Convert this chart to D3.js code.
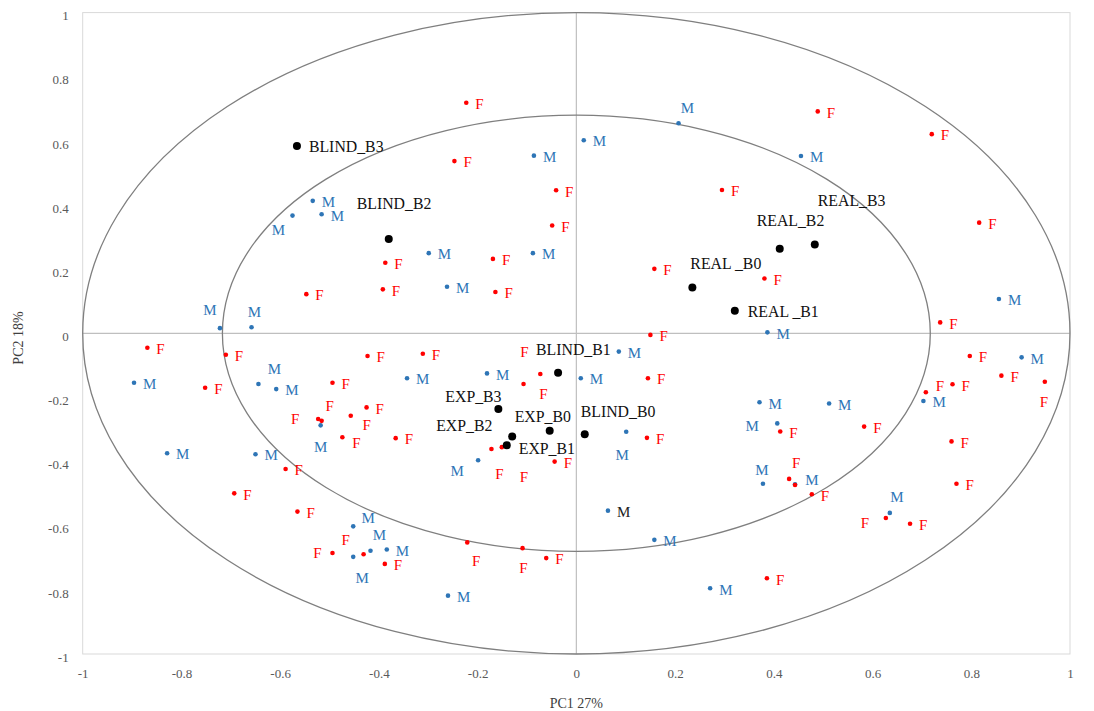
<!DOCTYPE html>
<html>
<head>
<meta charset="utf-8">
<script src="https://cdn.jsdelivr.net/npm/d3@7"></script>
<style>
  body { margin: 0; background: #fff; }
  text { font-family: "Liberation Serif", "Times New Roman", serif; }
</style>
</head>
<body>
<script>
// PCA scores, PC1 vs PC2
var femalePoints = [
  [-0.223, 0.719], [-0.247, 0.537], [-0.041, 0.446], [-0.049, 0.336], [-0.387, 0.22],
  [-0.392, 0.137], [-0.547, 0.122], [-0.169, 0.232], [-0.164, 0.129], [0.295, 0.447],
  [0.158, 0.201], [0.381, 0.171], [0.489, 0.692], [0.720, 0.621], [0.816, 0.345],
  [0.737, 0.034], [0.150, -0.005], [-0.869, -0.045], [-0.71, -0.067], [-0.752, -0.17],
  [-0.423, -0.071], [-0.494, -0.154], [-0.425, -0.231], [-0.523, -0.267], [-0.516, -0.273],
  [-0.457, -0.257], [-0.474, -0.324], [-0.366, -0.327], [-0.589, -0.423], [-0.693, -0.499],
  [-0.565, -0.556], [-0.494, -0.685], [-0.431, -0.689], [-0.388, -0.719], [-0.311, -0.064],
  [-0.073, -0.127], [-0.107, -0.158], [-0.172, -0.361], [-0.151, -0.355], [-0.044, -0.4],
  [-0.221, -0.652], [-0.109, -0.670], [-0.061, -0.701], [0.145, -0.14], [0.143, -0.326],
  [0.386, -0.764], [0.797, -0.071], [0.861, -0.132], [0.949, -0.151], [0.762, -0.159],
  [0.708, -0.184], [0.413, -0.306], [0.583, -0.291], [0.760, -0.337], [0.431, -0.454],
  [0.443, -0.473], [0.477, -0.502], [0.770, -0.469], [0.627, -0.576], [0.676, -0.594]
];
var malePoints = [
  [-0.086, 0.554], [-0.534, 0.413], [-0.575, 0.367], [-0.516, 0.371], [-0.299, 0.25],
  [-0.088, 0.25], [-0.262, 0.145], [-0.722, 0.016], [-0.658, 0.019], [0.015, 0.602],
  [0.207, 0.655], [0.455, 0.553], [0.856, 0.107], [0.387, 0.003], [-0.896, -0.154],
  [-0.644, -0.158], [-0.608, -0.174], [-0.518, -0.287], [-0.829, -0.374], [-0.65, -0.377],
  [-0.452, -0.602], [-0.452, -0.697], [-0.417, -0.678], [-0.384, -0.674], [-0.343, -0.14],
  [-0.181, -0.125], [-0.199, -0.396], [-0.26, -0.818], [0.009, -0.14], [0.086, -0.057],
  [0.101, -0.307], [0.064, -0.553], [0.158, -0.644], [0.271, -0.795], [0.371, -0.215],
  [0.407, -0.281], [0.378, -0.469], [0.902, -0.075], [0.703, -0.211], [0.512, -0.219],
  [0.443, -0.471], [0.635, -0.560]
];
var groupNames = ["BLIND_B3", "BLIND_B2", "REAL_B3", "REAL_B2", "REAL _B0", "REAL _B1",
  "BLIND_B1", "BLIND_B0", "EXP_B3", "EXP_B0", "EXP_B2", "EXP_B1"];
var groupX = [-0.566, -0.38, 0.483, 0.412, 0.235, 0.321, -0.037, 0.017, -0.158, -0.054, -0.13, -0.141];
var groupY = [0.584, 0.294, 0.277, 0.264, 0.143, 0.07, -0.123, -0.315, -0.236, -0.304, -0.322, -0.349];
var tickValues = [-1, -0.8, -0.6, -0.4, -0.2, 0, 0.2, 0.4, 0.6, 0.8, 1];

// label placement (pixels): null = to the right of the dot, [dx,dy] = centre offset, "none" = no label
var femaleLabelPos = [];
femalePoints.forEach(function() { femaleLabelPos.push(null); });
femaleLabelPos[23] = [-23, 0]; femaleLabelPos[24] = [8, -15]; femaleLabelPos[25] = [16, 9];
femaleLabelPos[26] = [14, 6]; femaleLabelPos[31] = [-15, 0]; femaleLabelPos[32] = [-18, -15];
femaleLabelPos[35] = [-16, -22]; femaleLabelPos[36] = [20, 10]; femaleLabelPos[37] = [8, 25];
femaleLabelPos[38] = [22, 30]; femaleLabelPos[40] = [9, 18]; femaleLabelPos[41] = [1, 20];
femaleLabelPos[48] = [-1, 20]; femaleLabelPos[50] = [14, -7]; femaleLabelPos[54] = [7, -16];
femaleLabelPos[55] = "none"; femaleLabelPos[58] = [-21, 5];
var maleLabelPos = [];
malePoints.forEach(function() { maleLabelPos.push(null); });
maleLabelPos[2] = [-14, 14]; maleLabelPos[7] = [-10, -18]; maleLabelPos[8] = [3, -15];
maleLabelPos[10] = [9, -15]; maleLabelPos[15] = [16, -15]; maleLabelPos[17] = [0, 21];
maleLabelPos[20] = [15, -9]; maleLabelPos[21] = [9, 21]; maleLabelPos[22] = [9, -16];
maleLabelPos[26] = [-21, 10]; maleLabelPos[30] = [-4, 23]; maleLabelPos[35] = [-25, 2];
maleLabelPos[36] = [-1, -14]; maleLabelPos[40] = [17, -5]; maleLabelPos[41] = [7, -16];
var maleBlackLabel = [31];
var groupLabelPos = [[12, 0], [-32, -36], [3, -44], [-23, -28], [-2, -24], [13, 1],
  [-22, -23], [-4, -23], [-53, -13], [-35, -14], [-76, -11], [12, 3]];

var W = 1094, H = 711;
var svg = d3.select("body").append("svg").attr("width", W).attr("height", H);

var x = d3.scaleLinear().domain([-1, 1]).range([82.7, 1070]);
var y = d3.scaleLinear().domain([-1, 1]).range([654, 12.6]);

// frame
svg.append("rect")
  .attr("x", x(-1)).attr("y", y(1))
  .attr("width", x(1) - x(-1)).attr("height", y(-1) - y(1))
  .attr("fill", "none").attr("stroke", "#d9d9d9").attr("stroke-width", 1);

// zero lines
svg.append("line").attr("x1", x(-1)).attr("x2", x(1)).attr("y1", y(0)).attr("y2", y(0))
  .attr("stroke", "#bfbfbf").attr("stroke-width", 1.2);
svg.append("line").attr("x1", x(0)).attr("x2", x(0)).attr("y1", y(-1)).attr("y2", y(1))
  .attr("stroke", "#bfbfbf").attr("stroke-width", 1.2);

// correlation circles
[[1, 1], [0.717, 0.68]].forEach(function(r) {
  svg.append("ellipse")
    .attr("cx", x(0)).attr("cy", y(0))
    .attr("rx", x(r[0]) - x(0)).attr("ry", y(0) - y(r[1]))
    .attr("fill", "none").attr("stroke", "#7f7f7f").attr("stroke-width", 1.3);
});

// axes
var fmt = function(d) { return String(d); };
var yAxis = svg.append("g").attr("transform", "translate(" + x(-1) + ",0)")
  .call(d3.axisLeft(y).tickValues(tickValues).tickFormat(fmt).tickSize(0).tickPadding(14));
var xAxis = svg.append("g").attr("transform", "translate(0," + y(-1) + ")")
  .call(d3.axisBottom(x).tickValues(tickValues).tickFormat(fmt).tickSize(0).tickPadding(15));
[xAxis, yAxis].forEach(function(g) {
  g.select(".domain").remove();
  g.attr("font-family", null);
  g.selectAll("text").attr("font-size", 13).attr("fill", "#595959");
});
yAxis.selectAll("text").attr("dy", "0.55em");

svg.append("text").attr("x", x(0)).attr("y", 703).attr("dy", "0.35em")
  .attr("text-anchor", "middle").attr("font-size", 14).attr("fill", "#404040")
  .text("PC1 27%");
svg.append("text").attr("transform", "translate(18,338) rotate(-90)").attr("dy", "0.35em")
  .attr("text-anchor", "middle").attr("font-size", 14).attr("fill", "#404040")
  .text("PC2 18%");

function drawSet(points, labelPos, colour, letter, blackIdx) {
  var g = svg.append("g");
  g.selectAll("circle").data(points).enter().append("circle")
    .attr("cx", function(d) { return x(d[0]); })
    .attr("cy", function(d) { return y(d[1]); })
    .attr("r", 2.3).attr("fill", colour);
  g.selectAll("text").data(points).enter().append("text")
    .filter(function(d, i) { return labelPos[i] !== "none"; })
    .attr("x", function(d) { var p = labelPos[points.indexOf(d)]; return x(d[0]) + (p ? p[0] : 9); })
    .attr("y", function(d) { var p = labelPos[points.indexOf(d)]; return y(d[1]) + (p ? p[1] : 1); })
    .attr("dy", "0.35em")
    .attr("text-anchor", function(d) { return labelPos[points.indexOf(d)] ? "middle" : "start"; })
    .attr("font-size", 15)
    .attr("fill", function(d) { return blackIdx.indexOf(points.indexOf(d)) >= 0 ? "#222" : colour; })
    .text(letter);
}
drawSet(malePoints, maleLabelPos, "#2e75b6", "M", maleBlackLabel);
drawSet(femalePoints, femaleLabelPos, "#ff0000", "F", []);

// group centroids
var groups = svg.append("g");
groups.selectAll("circle").data(groupNames).enter().append("circle")
  .attr("cx", function(d, i) { return x(groupX[i]); })
  .attr("cy", function(d, i) { return y(groupY[i]); })
  .attr("r", 4).attr("fill", "#000");
groups.selectAll("text").data(groupNames).enter().append("text")
  .attr("x", function(d, i) { return x(groupX[i]) + groupLabelPos[i][0]; })
  .attr("y", function(d, i) { return y(groupY[i]) + groupLabelPos[i][1]; })
  .attr("dy", "0.35em").attr("font-size", 15.8).attr("fill", "#111")
  .text(function(d) { return d; });
</script>
</body>
</html>
